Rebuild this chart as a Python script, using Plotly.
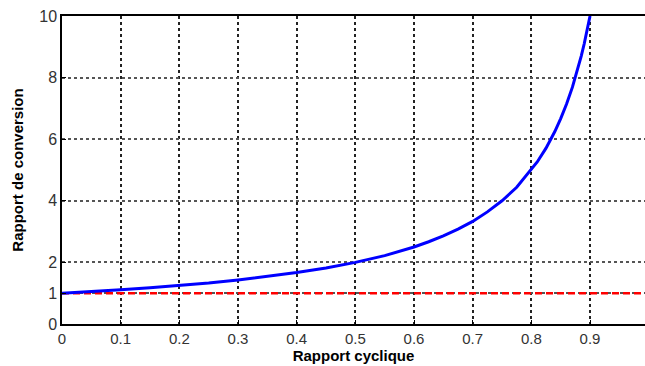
import plotly.graph_objects as go

# Duty cycle (rapport cyclique) and conversion ratio
duty = [0.0, 0.05, 0.1, 0.15, 0.2, 0.25, 0.3, 0.35, 0.4, 0.45, 0.5, 0.55, 0.6, 0.625,
        0.65, 0.675, 0.7, 0.725, 0.75, 0.775, 0.8, 0.81, 0.825, 0.84, 0.85, 0.86,
        0.87, 0.875, 0.88, 0.885, 0.89, 0.895, 0.9]
ratio = [1.0, 1.05, 1.11, 1.18, 1.25, 1.33, 1.43, 1.54, 1.67, 1.82, 2.0, 2.22, 2.5, 2.67,
         2.86, 3.08, 3.33, 3.64, 4.0, 4.44, 5.0, 5.26, 5.71, 6.25, 6.67, 7.14,
         7.69, 8.0, 8.33, 8.7, 9.09, 9.52, 10.0]

ref_x = [0.0, 1.0]
ref_y = [1.0, 1.0]

x_ticks = [0, 0.1, 0.2, 0.3, 0.4, 0.5, 0.6, 0.7, 0.8, 0.9]
x_labels = ["0", "0.1", "0.2", "0.3", "0.4", "0.5", "0.6", "0.7", "0.8", "0.9"]
y_ticks = [0, 1, 2, 4, 6, 8, 10]
y_labels = ["0", "1", "2", "4", "6", "8", "10"]

font_fam = "Liberation Sans, Arial, sans-serif"

fig = go.Figure()
fig.add_trace(go.Scatter(x=ref_x, y=ref_y, mode="lines",
                         line=dict(color="#ff0000", width=2.5, dash="7px,4px"),
                         showlegend=False, hoverinfo="skip"))
fig.add_trace(go.Scatter(x=duty, y=ratio, mode="lines",
                         line=dict(color="#0000ff", width=3),
                         showlegend=False))

fig.update_layout(
    width=645, height=366,
    margin=dict(l=62, r=0, t=16, b=42),
    paper_bgcolor="white", plot_bgcolor="white",
    font=dict(family=font_fam, size=16, color="#333333"),
)
fig.update_xaxes(
    range=[0, 0.9937], tickvals=x_ticks, ticktext=x_labels,
    showgrid=True, gridcolor="#222222", griddash="3px,3px", gridwidth=1.5,
    showline=True, linecolor="black", linewidth=1.5, mirror=True,
    ticks="inside", ticklen=4, tickcolor="black",
    zeroline=False, tickfont=dict(size=15),
    title=dict(text="<b>Rapport cyclique</b>", font=dict(size=15, color="black", family=font_fam), standoff=1),
)
fig.update_yaxes(
    range=[0, 10], tickvals=y_ticks, ticktext=y_labels,
    showgrid=True, gridcolor="#555555", griddash="3px,3px", gridwidth=1.5,
    showline=True, linecolor="black", linewidth=1.5,
    ticks="inside", ticklen=4, tickcolor="black",
    zeroline=False, tickfont=dict(size=16),
    title=dict(text="<b>Rapport de conversion</b>", font=dict(size=15, color="black", family=font_fam), standoff=12),
)

fig.write_html("out.html")
